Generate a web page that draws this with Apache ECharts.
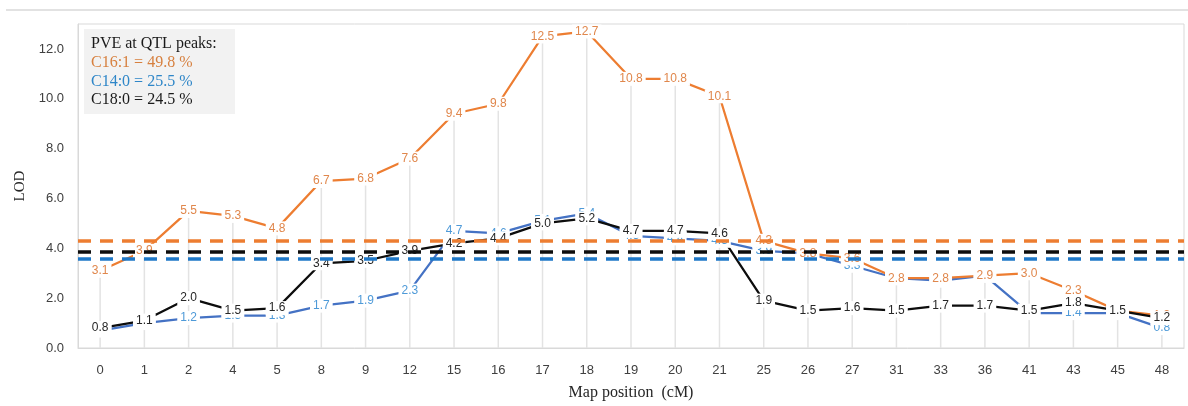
<!DOCTYPE html>
<html>
<head>
<meta charset="utf-8">
<script src="https://cdn.jsdelivr.net/npm/echarts@6/dist/echarts.min.js"></script>
<style>
html,body{margin:0;padding:0;background:#fff;}
#chart{width:1188px;height:406px;}
</style>
</head>
<body>
<div id="chart"></div>
<script>
const categories = ['0','1','2','4','5','8','9','12','15','16','17','18','19','20','21','25','26','27','31','33','36','41','43','45','48'];
const c16_1 = [3.1,3.9,5.5,5.3,4.8,6.7,6.8,7.6,9.4,9.8,12.5,12.7,10.8,10.8,10.1,4.3,3.8,3.6,2.8,2.8,2.9,3.0,2.3,1.5,1.3];
const c14_0 = [0.7,1.0,1.2,1.3,1.3,1.7,1.9,2.3,4.7,4.6,5.1,5.4,4.5,4.4,4.3,3.9,3.8,3.3,2.8,2.7,2.9,1.4,1.4,1.4,0.8];
const c18_0 = [0.8,1.1,2.0,1.5,1.6,3.4,3.5,3.9,4.2,4.4,5.0,5.2,4.7,4.7,4.6,1.9,1.5,1.6,1.5,1.7,1.7,1.5,1.8,1.5,1.2];
const thresholds = {c16_1: 4.3, c18_0: 3.87, c14_0: 3.57};
const yTicks = [0, 2, 4, 6, 8, 10, 12];
const legendLines = ['PVE at QTL peaks:', 'C16:1 = 49.8 %', 'C14:0 = 25.5 %', 'C18:0 = 24.5 %'];

const chart = echarts.init(document.getElementById('chart'), null, {renderer: 'canvas'});

function lineSeries(name, data, color, labelColor, thr, dashColor) {
  return {
    name: name,
    type: 'line',
    data: data,
    symbol: 'circle',
    symbolSize: 0.01,
    showSymbol: true,
    lineStyle: {color: color, width: 2.25},
    itemStyle: {color: color},
    label: {
      show: true,
      position: 'inside',
      formatter: p => Number(p.value).toFixed(1),
      color: labelColor,
      fontFamily: 'Liberation Sans',
      fontSize: 12,
      backgroundColor: '#ffffff',
      padding: [1, 3]
    },
    labelLayout: {hideOverlap: false},
    markLine: {
      silent: true,
      symbol: 'none',
      label: {show: false},
      lineStyle: {color: dashColor, width: 3.5, type: [13, 9]},
      data: [{yAxis: thr}]
    },
    z: 3
  };
}

const option = {
  animation: false,
  backgroundColor: '#ffffff',
  grid: {left: 78, right: 4, top: 24, bottom: 57, show: true, borderColor: '#d9d9d9', borderWidth: 1},
  xAxis: {
    type: 'category',
    data: categories,
    boundaryGap: true,
    axisLine: {show: true, lineStyle: {color: '#d9d9d9'}},
    axisTick: {show: false},
    axisLabel: {color: '#404040', fontSize: 13, fontFamily: 'Liberation Sans', margin: 16},
    splitLine: {show: false},
    name: 'Map position  (cM)',
    nameLocation: 'middle',
    nameGap: 37,
    nameTextStyle: {fontFamily: 'Liberation Serif', fontSize: 16, color: '#262626'}
  },
  yAxis: {
    type: 'value',
    min: yTicks[0],
    max: 13,
    interval: 2,
    axisLine: {show: true, lineStyle: {color: '#d9d9d9'}},
    axisTick: {show: false},
    splitLine: {show: false},
    axisLabel: {
      color: '#404040', fontSize: 13, fontFamily: 'Liberation Sans', margin: 14,
      showMaxLabel: false,
      formatter: v => yTicks.includes(v) ? v.toFixed(1) : ''
    },
    name: 'LOD',
    nameLocation: 'middle',
    nameGap: 42,
    nameTextStyle: {fontFamily: 'Liberation Serif', fontSize: 15, color: '#262626'}
  },
  graphic: [
    {type: 'line', shape: {x1: 6, y1: 10, x2: 1188, y2: 10}, style: {stroke: '#d9d9d9', lineWidth: 1.5}, silent: true},
    {type: 'rect', shape: {x: 84, y: 29, width: 151, height: 85}, style: {fill: '#f2f2f2'}, z: 10, silent: true},
    {type: 'text', left: 91, top: 36, z: 11, style: {text: legendLines[0], fill: '#1a1a1a', font: '16px "Liberation Serif"'}},
    {type: 'text', left: 91, top: 55, z: 11, style: {text: legendLines[1], fill: '#D7803F', font: '16px "Liberation Serif"'}},
    {type: 'text', left: 91, top: 74, z: 11, style: {text: legendLines[2], fill: '#2E86C8', font: '16px "Liberation Serif"'}},
    {type: 'text', left: 91, top: 92, z: 11, style: {text: legendLines[3], fill: '#1a1a1a', font: '16px "Liberation Serif"'}}
  ],
  series: [
    {
      name: 'drop',
      type: 'bar',
      data: c16_1,
      barWidth: 1.5,
      itemStyle: {color: '#e3e3e3'},
      silent: true,
      z: 1
    },
    lineSeries('C14:0', c14_0, '#4472C4', '#4E9AD8', thresholds.c14_0, '#1F78C8'),
    lineSeries('C16:1', c16_1, '#ED7D31', '#E0874C', thresholds.c16_1, '#ED7D31'),
    lineSeries('C18:0', c18_0, '#0d0d0d', '#262626', thresholds.c18_0, '#0d0d0d')
  ]
};
chart.setOption(option);
</script>
</body>
</html>
